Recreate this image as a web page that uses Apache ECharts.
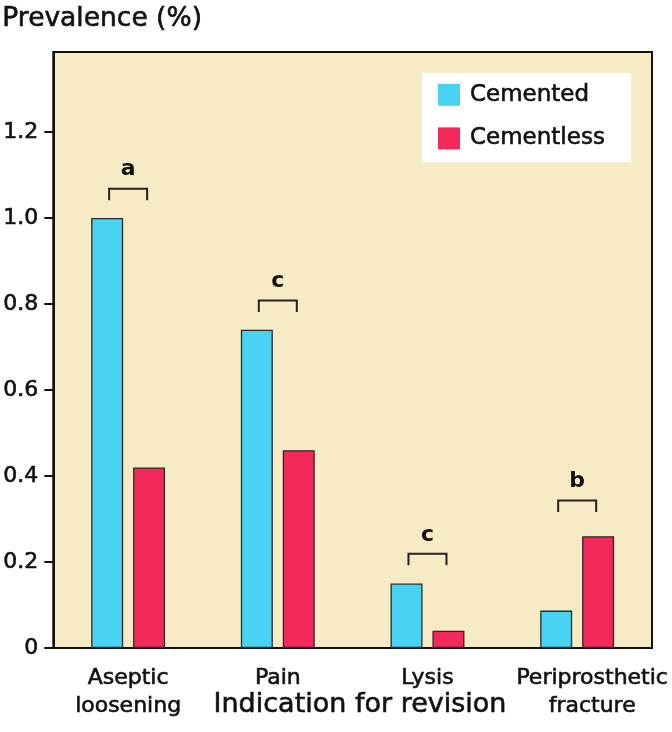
<!DOCTYPE html>
<html>
<head>
<meta charset="utf-8">
<script src="https://cdn.jsdelivr.net/npm/echarts@6/dist/echarts.min.js"></script>
<style>
html,body{margin:0;padding:0;background:#ffffff;}
#chart{width:672px;height:732px;}
</style>
</head>
<body>
<div id="chart"></div>
<script>
const categories = ['Aseptic\nloosening', 'Pain', 'Lysis', 'Periprosthetic\nfracture'];
const cemented = [1.0, 0.74, 0.15, 0.087];
const cementless = [0.42, 0.46, 0.04, 0.26];
const yTicks = [0, 0.2, 0.4, 0.6, 0.8, 1.0, 1.2];
const bracketLevels = [1.068, 0.808, 0.219, 0.343];
const bracketLetters = ['a', 'c', 'c', 'b'];

const FONT = 'DejaVu Sans';
const INK = '#111111';
const THICK = {textBorderColor: INK, textBorderWidth: 0.6};
const chart = echarts.init(document.getElementById('chart'), null, {renderer: 'canvas'});

const catData = categories.map((c, i) => {
  if (i === 3) return {value: c, textStyle: {padding: [0, 0, 0, 30]}};
  return c;
});

const option = {
  backgroundColor: '#ffffff',
  animation: false,
  grid: {
    left: 52, right: 20, top: 52, bottom: 84,
    show: true,
    backgroundColor: '#f7ebc6',
    borderColor: INK,
    borderWidth: 2
  },
  legend: {
    data: ['Cemented', 'Cementless'],
    orient: 'vertical',
    left: 422, top: 73,
    backgroundColor: '#ffffff',
    padding: [10, 26, 12, 16],
    itemWidth: 22, itemHeight: 22, itemGap: 20,
    icon: 'rect',
    itemStyle: {borderWidth: 0},
    textStyle: Object.assign({fontFamily: FONT, fontSize: 23, color: INK, padding: [0, 0, 0, 5]}, THICK)
  },
  xAxis: {
    type: 'category',
    data: catData,
    boundaryGap: true,
    axisLine: {show: true, lineStyle: {color: INK, width: 2}},
    axisTick: {show: false},
    axisLabel: Object.assign({
      interval: 0, margin: 16,
      fontFamily: FONT, fontSize: 22, color: INK, lineHeight: 28
    }, THICK)
  },
  yAxis: {
    type: 'value',
    min: 0, max: 1.386,
    splitLine: {show: false},
    axisLine: {show: true, lineStyle: {color: INK, width: 2}},
    axisTick: {show: true, length: 9, lineStyle: {color: INK, width: 2}, customValues: yTicks},
    axisLabel: Object.assign({
      customValues: yTicks,
      margin: 15,
      fontFamily: FONT, fontSize: 22, color: INK,
      formatter: v => (v === 0 ? '0' : v.toFixed(1))
    }, THICK)
  },
  series: [
    {
      name: 'Cemented', type: 'bar', data: cemented,
      barWidth: 32, barGap: '31%',
      itemStyle: {color: '#48d2f4', borderColor: '#2a2a2a', borderWidth: 1.3}
    },
    {
      name: 'Cementless', type: 'bar', data: cementless,
      barWidth: 32,
      itemStyle: {color: '#f2295a', borderColor: '#2a2a2a', borderWidth: 1.3}
    },
    {
      name: 'brackets', type: 'custom',
      data: bracketLevels.map((v, i) => [i, v]),
      z: 10,
      renderItem: function (params, api) {
        const p = api.coord([api.value(0), api.value(1)]);
        const x = p[0], y = p[1];
        return {
          type: 'group',
          children: [
            {
              type: 'polyline',
              shape: {points: [[x - 19, y + 11.5], [x - 19, y], [x + 19, y], [x + 19, y + 11.5]]},
              style: {stroke: '#222', lineWidth: 2, fill: null}
            },
            {
              type: 'text',
              style: {
                x: x, y: y - 19,
                text: bracketLetters[params.dataIndex],
                align: 'center', verticalAlign: 'middle',
                font: 'bold 22px "' + FONT + '"',
                fill: INK
              }
            }
          ]
        };
      }
    }
  ],
  graphic: [
    {
      type: 'text', left: 2, top: 5,
      style: Object.assign({text: 'Prevalence (%)', font: '26.5px "' + FONT + '"', fill: INK, stroke: INK, lineWidth: 0.6})
    },
    {
      type: 'text', x: 360, y: 705,
      style: {text: 'Indication for revision', font: '27px "' + FONT + '"', fill: INK, stroke: INK, lineWidth: 0.6, align: 'center', verticalAlign: 'middle'}
    }
  ]
};
chart.setOption(option);
</script>
</body>
</html>
